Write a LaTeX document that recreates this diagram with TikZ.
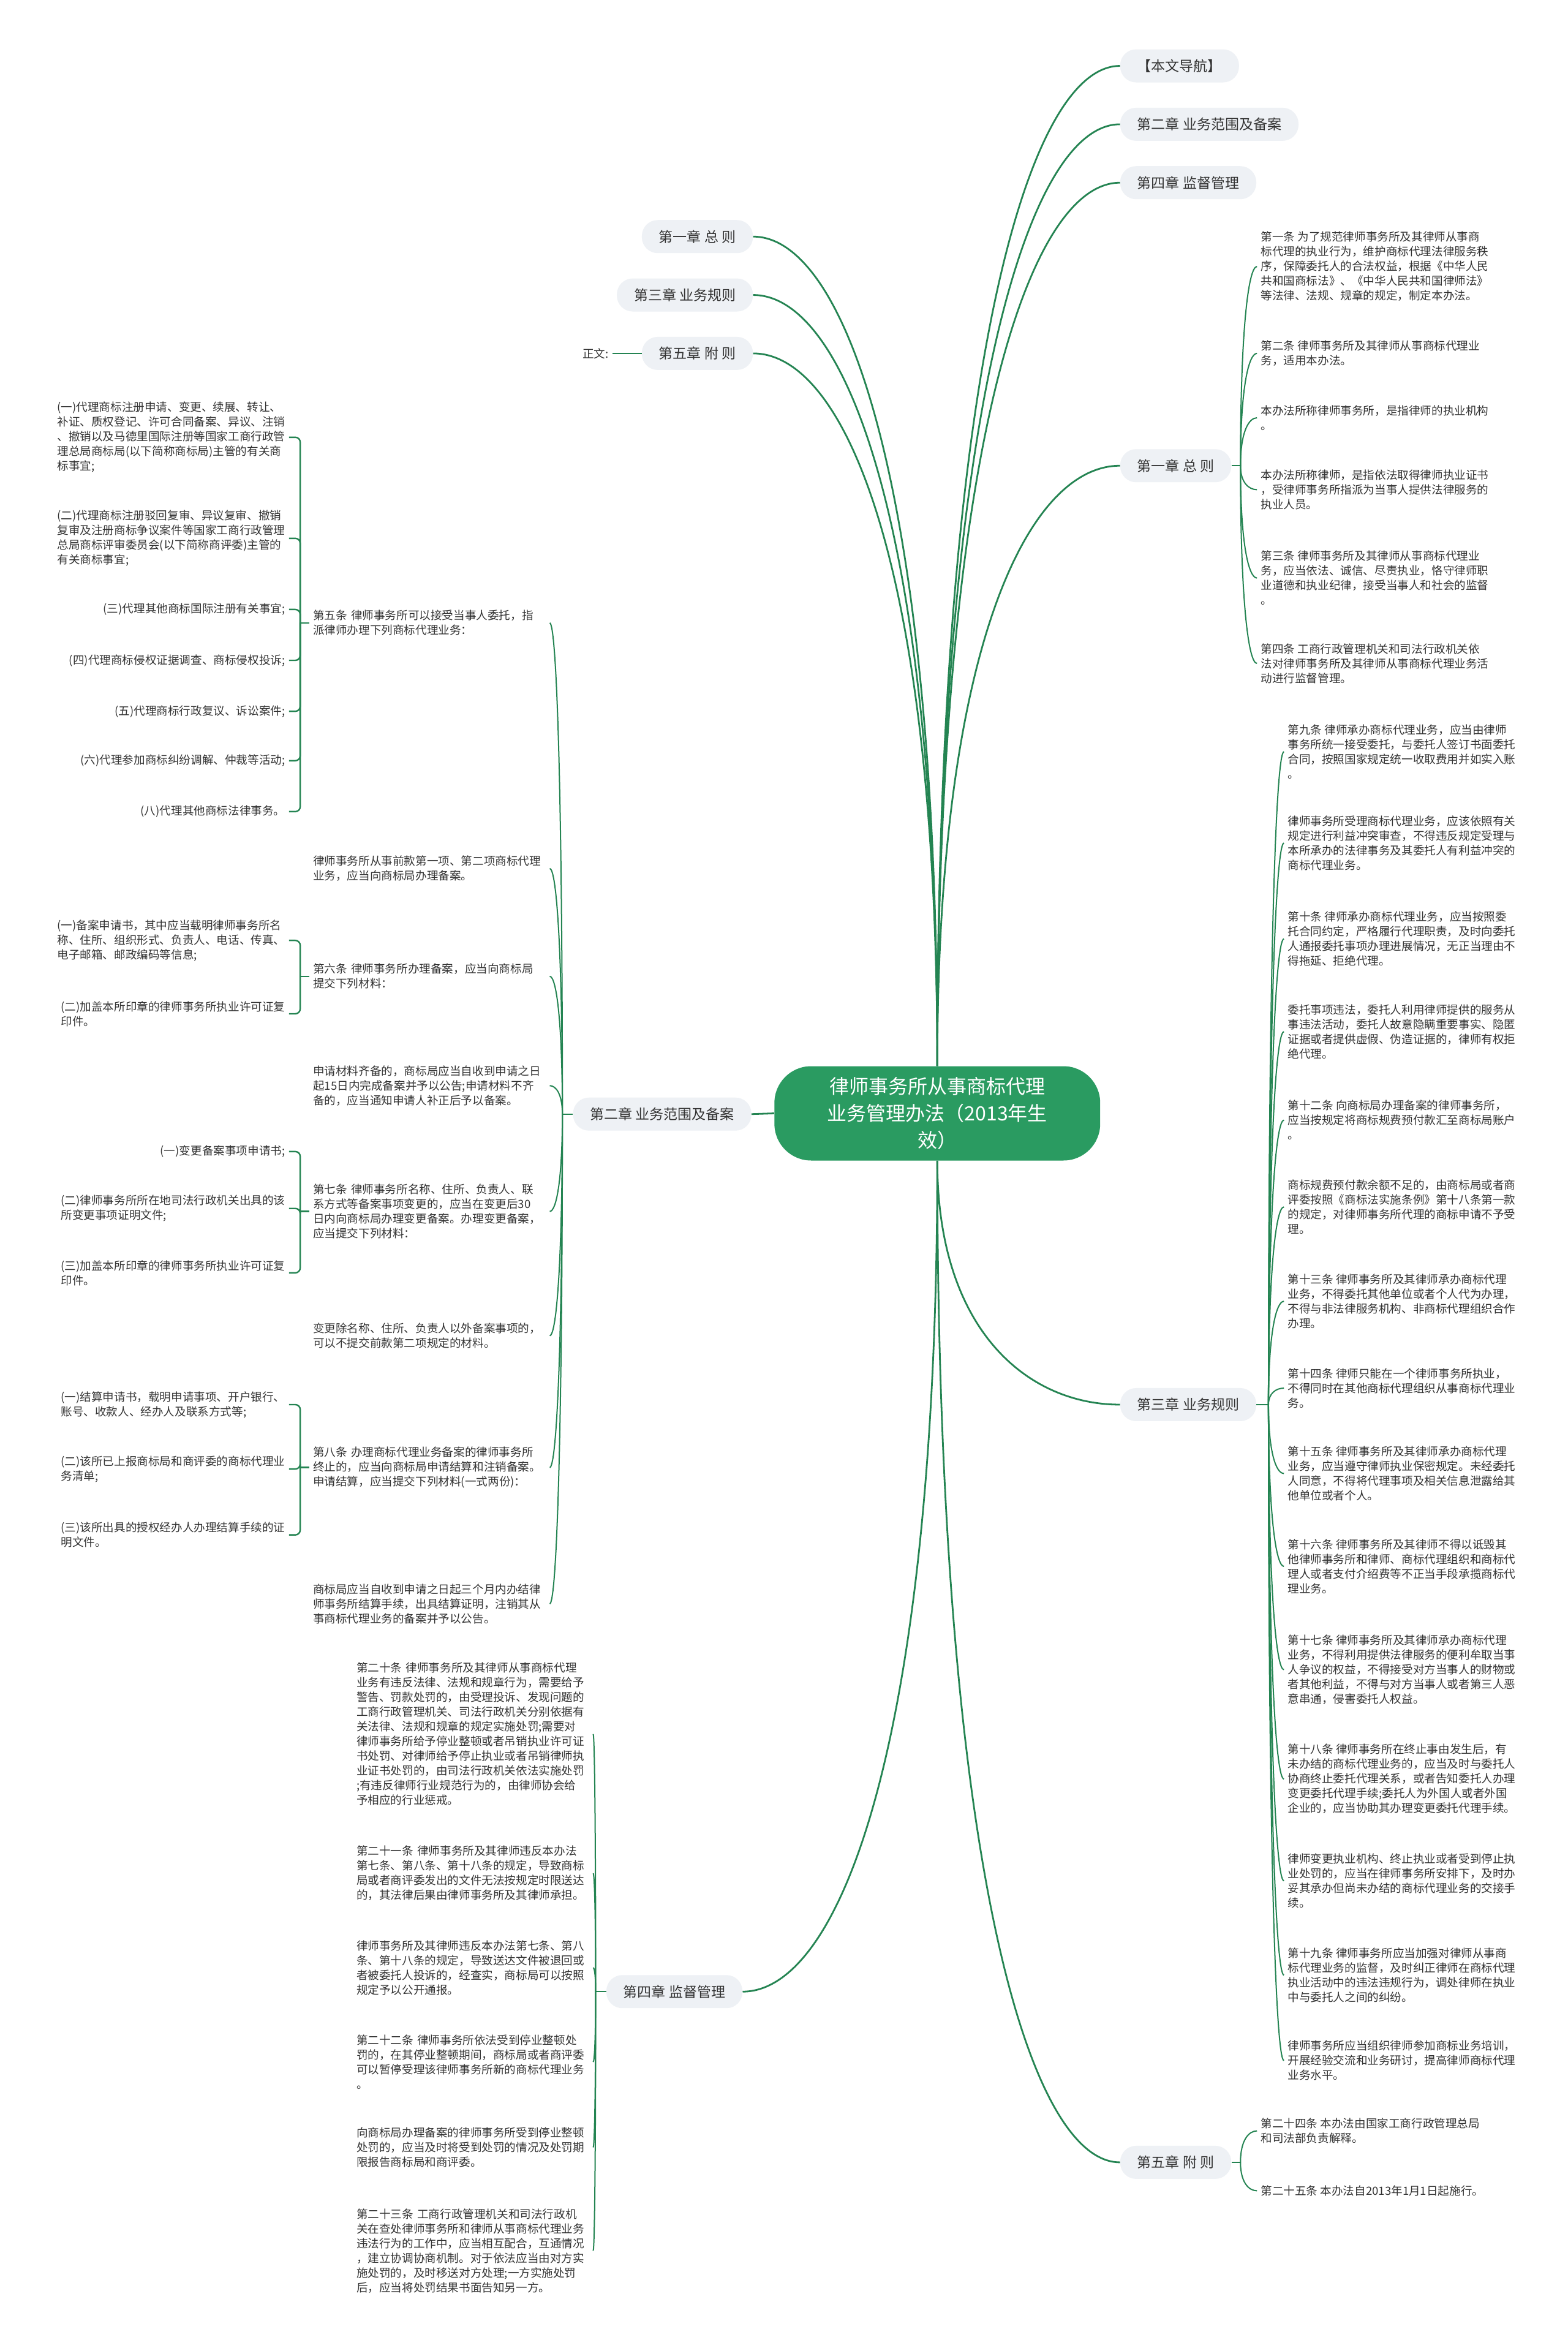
\documentclass[tikz,border=0pt]{standalone}
\usepackage{fontspec}
\newfontfamily\cjk{Noto Sans CJK SC}
\usetikzlibrary{calc}
\definecolor{mmgreen}{RGB}{36,132,82}
\definecolor{rootgreen}{RGB}{42,155,97}
\definecolor{pillgray}{RGB}{238,241,245}
\definecolor{txtgray}{RGB}{51,51,51}

\begin{document}
\begin{tikzpicture}[
  x=1.2225pt, y=-1.2225pt,
  root box/.style = {fill=rootgreen, rounded corners=30pt, minimum width=266pt,
    minimum height=77pt, align=center, text=white, inner sep=0pt,
    font=\cjk\fontsize{16}{22}\selectfont},
  chap/.style = {fill=pillgray, rounded corners=13pt, minimum height=27pt,
    inner xsep=14pt, inner ysep=0pt, text=txtgray,
    font=\cjk\fontsize{11.5}{14}\selectfont},
  leaf/.style = {align=left, inner xsep=3pt, inner ysep=1pt, text=txtgray,
    font=\cjk\fontsize{9.3}{12}\selectfont},
  leaf r/.style = {leaf, anchor=west},
  leaf l/.style = {leaf, anchor=west, text width=190pt},
  item/.style = {leaf, anchor=east},
  link/.style = {draw=mmgreen, line width=1.4pt},
  fan/.style = {draw=mmgreen, line width=1pt},
  brk/.style = {draw=mmgreen, line width=1.2pt, rounded corners=4pt},
  curv/.style = {to path={.. controls ($(\tikztostart)!0.7!(\tikztostart|-\tikztotarget)$)
    and ($(\tikztotarget)!0.5!(\tikztostart|-\tikztotarget)$) .. (\tikztotarget)}},
]
\fill[white] (0,0) rectangle (1047,1568);
\useasboundingbox (0,0) rectangle (1047,1568);

% root
\node[root box] (root) at (626,743.5)
  {律师事务所从事商标代理\\业务管理办法（2013年生\\效）};

% chapters, right
\node[chap, anchor=west] (nav)   at (748,44)   {【本文导航】};
\node[chap, anchor=west] (ch2-r) at (748,83)   {第二章 业务范围及备案};
\node[chap, anchor=west] (ch4-r) at (748,122)  {第四章 监督管理};
\node[chap, anchor=west] (ch1-r) at (748,311)  {第一章 总 则};
\node[chap, anchor=west] (ch3-r) at (748,938)  {第三章 业务规则};
\node[chap, anchor=west] (ch5-r) at (748,1444) {第五章 附 则};

% chapters, left
\node[chap, anchor=east] (ch1-l) at (503,158)  {第一章 总 则};
\node[chap, anchor=east] (ch3-l) at (503,197)  {第三章 业务规则};
\node[chap, anchor=east] (ch5-l) at (503,236)  {第五章 附 则};
\node[chap, anchor=east] (ch2-l) at (502,744)  {第二章 业务范围及备案};
\node[chap, anchor=east] (ch4-l) at (496,1330) {第四章 监督管理};
\node[leaf, anchor=east] (zw)    at (409,236)  {正文:};

\coordinate (rt) at (root.north);
\coordinate (rb) at (root.south);

\foreach \nd in {nav,ch2-r,ch4-r,ch1-r} \draw[link] (rt) to[curv] (\nd.west);
\foreach \nd in {ch3-r,ch5-r} \draw[link] (rb) to[curv] (\nd.west);
\foreach \nd in {ch1-l,ch3-l,ch5-l} \draw[link] (rt) to[curv] (\nd.east);
\draw[link] (rb) to[curv] (ch4-l.east);
\draw[link] (root.west) -- (ch2-l.east);
\draw[fan] (zw.east) -- (ch5-l.west);

% 第一章 (right)
\node[leaf r] (r1a) at (839.5,178) {第一条 为了规范律师事务所及其律师从事商\\标代理的执业行为，维护商标代理法律服务秩\\序，保障委托人的合法权益，根据《中华人民\\共和国商标法》、《中华人民共和国律师法》\\等法律、法规、规章的规定，制定本办法。};
\node[leaf r] (r1b) at (839.5,236) {第二条 律师事务所及其律师从事商标代理业\\务，适用本办法。};
\node[leaf r] (r1c) at (839.5,279) {本办法所称律师事务所，是指律师的执业机构\\。};
\node[leaf r] (r1d) at (839.5,327) {本办法所称律师，是指依法取得律师执业证书\\，受律师事务所指派为当事人提供法律服务的\\执业人员。};
\node[leaf r] (r1e) at (839.5,386) {第三条 律师事务所及其律师从事商标代理业\\务，应当依法、诚信、尽责执业，恪守律师职\\业道德和执业纪律，接受当事人和社会的监督\\。};
\node[leaf r] (r1f) at (839.5,443) {第四条 工商行政管理机关和司法行政机关依\\法对律师事务所及其律师从事商标代理业务活\\动进行监督管理。};
\draw[fan] (ch1-r.east) -- ++(6,0) coordinate (s1r);
\foreach \nd in {r1a,r1b,r1c,r1d,r1e,r1f} \draw[fan] (s1r) to[curv] (\nd.west);

% 第三章 (right)
\node[leaf r] (r3a) at (857.5,502) {第九条 律师承办商标代理业务，应当由律师\\事务所统一接受委托，与委托人签订书面委托\\合同，按照国家规定统一收取费用并如实入账\\。};
\node[leaf r] (r3b) at (857.5,563) {律师事务所受理商标代理业务，应该依照有关\\规定进行利益冲突审查，不得违反规定受理与\\本所承办的法律事务及其委托人有利益冲突的\\商标代理业务。};
\node[leaf r] (r3c) at (857.5,627) {第十条 律师承办商标代理业务，应当按照委\\托合同约定，严格履行代理职责，及时向委托\\人通报委托事项办理进展情况，无正当理由不\\得拖延、拒绝代理。};
\node[leaf r] (r3d) at (857.5,689) {委托事项违法，委托人利用律师提供的服务从\\事违法活动，委托人故意隐瞒重要事实、隐匿\\证据或者提供虚假、伪造证据的，律师有权拒\\绝代理。};
\node[leaf r] (r3e) at (857.5,748) {第十二条 向商标局办理备案的律师事务所，\\应当按规定将商标规费预付款汇至商标局账户\\。};
\node[leaf r] (r3f) at (857.5,806) {商标规费预付款余额不足的，由商标局或者商\\评委按照《商标法实施条例》第十八条第一款\\的规定，对律师事务所代理的商标申请不予受\\理。};
\node[leaf r] (r3g) at (857.5,869) {第十三条 律师事务所及其律师承办商标代理\\业务，不得委托其他单位或者个人代为办理，\\不得与非法律服务机构、非商标代理组织合作\\办理。};
\node[leaf r] (r3h) at (857.5,927) {第十四条 律师只能在一个律师事务所执业，\\不得同时在其他商标代理组织从事商标代理业\\务。};
\node[leaf r] (r3i) at (857.5,984) {第十五条 律师事务所及其律师承办商标代理\\业务，应当遵守律师执业保密规定。未经委托\\人同意，不得将代理事项及相关信息泄露给其\\他单位或者个人。};
\node[leaf r] (r3j) at (857.5,1046) {第十六条 律师事务所及其律师不得以诋毁其\\他律师事务所和律师、商标代理组织和商标代\\理人或者支付介绍费等不正当手段承揽商标代\\理业务。};
\node[leaf r] (r3k) at (857.5,1115) {第十七条 律师事务所及其律师承办商标代理\\业务，不得利用提供法律服务的便利牟取当事\\人争议的权益，不得接受对方当事人的财物或\\者其他利益，不得与对方当事人或者第三人恶\\意串通，侵害委托人权益。};
\node[leaf r] (r3l) at (857.5,1188) {第十八条 律师事务所在终止事由发生后，有\\未办结的商标代理业务的，应当及时与委托人\\协商终止委托代理关系，或者告知委托人办理\\变更委托代理手续;委托人为外国人或者外国\\企业的，应当协助其办理变更委托代理手续。};
\node[leaf r] (r3m) at (857.5,1256) {律师变更执业机构、终止执业或者受到停止执\\业处罚的，应当在律师事务所安排下，及时办\\妥其承办但尚未办结的商标代理业务的交接手\\续。};
\node[leaf r] (r3n) at (857.5,1319) {第十九条 律师事务所应当加强对律师从事商\\标代理业务的监督，及时纠正律师在商标代理\\执业活动中的违法违规行为，调处律师在执业\\中与委托人之间的纠纷。};
\node[leaf r] (r3o) at (857.5,1376) {律师事务所应当组织律师参加商标业务培训，\\开展经验交流和业务研讨，提高律师商标代理\\业务水平。};
\draw[fan] (ch3-r.east) -- ++(8,0) coordinate (s3r);
\foreach \nd in {r3a,r3b,r3c,r3d,r3e,r3f,r3g,r3h,r3i,r3j,r3k,r3l,r3m,r3n,r3o}
  \draw[fan] (s3r) to[curv] (\nd.west);

% 第五章 (right)
\node[leaf r] (r5a) at (839.5,1423) {第二十四条 本办法由国家工商行政管理总局\\和司法部负责解释。};
\node[leaf r] (r5b) at (839.5,1463) {第二十五条 本办法自2013年1月1日起施行。};
\draw[fan] (ch5-r.east) -- ++(6,0) coordinate (s5r);
\foreach \nd in {r5a,r5b} \draw[fan] (s5r) to[curv] (\nd.west);

% 第二章 (left)
\node[leaf l] (l2a) at (206.5,416) {第五条 律师事务所可以接受当事人委托，指\\派律师办理下列商标代理业务：};
\node[leaf l] (l2b) at (206.5,580) {律师事务所从事前款第一项、第二项商标代理\\业务，应当向商标局办理备案。};
\node[leaf l] (l2c) at (206.5,652) {第六条 律师事务所办理备案，应当向商标局\\提交下列材料：};
\node[leaf l] (l2d) at (206.5,725) {申请材料齐备的，商标局应当自收到申请之日\\起15日内完成备案并予以公告;申请材料不齐\\备的，应当通知申请人补正后予以备案。};
\node[leaf l] (l2e) at (206.5,809) {第七条 律师事务所名称、住所、负责人、联\\系方式等备案事项变更的，应当在变更后30\\日内向商标局办理变更备案。办理变更备案，\\应当提交下列材料：};
\node[leaf l] (l2f) at (206.5,892) {变更除名称、住所、负责人以外备案事项的，\\可以不提交前款第二项规定的材料。};
\node[leaf l] (l2g) at (206.5,980) {第八条 办理商标代理业务备案的律师事务所\\终止的，应当向商标局申请结算和注销备案。\\申请结算，应当提交下列材料(一式两份)：};
\node[leaf l] (l2h) at (206.5,1071) {商标局应当自收到申请之日起三个月内办结律\\师事务所结算手续，出具结算证明，注销其从\\事商标代理业务的备案并予以公告。};
\draw[fan] (ch2-l.west) -- ++(-7,0) coordinate (s2l);
\foreach \nd in {l2a,l2b,l2c,l2d,l2e,l2f,l2g,l2h} \draw[fan] (s2l) to[curv] (\nd.east);

% 第五条 items
\node[item] (l5a) at (193,292) {(一)代理商标注册申请、变更、续展、转让、\\补证、质权登记、许可合同备案、异议、注销\\、撤销以及马德里国际注册等国家工商行政管\\理总局商标局(以下简称商标局)主管的有关商\\标事宜;};
\node[item] (l5b) at (193,359.5) {(二)代理商标注册驳回复审、异议复审、撤销\\复审及注册商标争议案件等国家工商行政管理\\总局商标评审委员会(以下简称商评委)主管的\\有关商标事宜;};
\node[item] (l5c) at (193,407) {(三)代理其他商标国际注册有关事宜;};
\node[item] (l5d) at (193,441) {(四)代理商标侵权证据调查、商标侵权投诉;};
\node[item] (l5e) at (193,475) {(五)代理商标行政复议、诉讼案件;};
\node[item] (l5f) at (193,508) {(六)代理参加商标纠纷调解、仲裁等活动;};
\node[item] (l5g) at (193,542) {(八)代理其他商标法律事务。};
\draw[brk] (l2a.west) -- ++(-6,0) coordinate (b5);
\foreach \nd in {l5a,l5b,l5c,l5d,l5e,l5f,l5g} \draw[brk] (b5) |- (\nd.east);

% 第六条 items
\node[item] (l6a) at (193,628) {(一)备案申请书，其中应当载明律师事务所名\\称、住所、组织形式、负责人、电话、传真、\\电子邮箱、邮政编码等信息;};
\node[item] (l6b) at (193,677) {(二)加盖本所印章的律师事务所执业许可证复\\印件。};
\draw[brk] (l2c.west) -- ++(-6,0) coordinate (b6);
\foreach \nd in {l6a,l6b} \draw[brk] (b6) |- (\nd.east);

% 第七条 items
\node[item] (l7a) at (193,769) {(一)变更备案事项申请书;};
\node[item] (l7b) at (193,807) {(二)律师事务所所在地司法行政机关出具的该\\所变更事项证明文件;};
\node[item] (l7c) at (193,850) {(三)加盖本所印章的律师事务所执业许可证复\\印件。};
\draw[brk] (l2e.west) -- ++(-6,0) coordinate (b7);
\foreach \nd in {l7a,l7b,l7c} \draw[brk] (b7) |- (\nd.east);

% 第八条 items
\node[item] (l8a) at (193,938) {(一)结算申请书，载明申请事项、开户银行、\\账号、收款人、经办人及联系方式等;};
\node[item] (l8b) at (193,981) {(二)该所已上报商标局和商评委的商标代理业\\务清单;};
\node[item] (l8c) at (193,1025) {(三)该所出具的授权经办人办理结算手续的证\\明文件。};
\draw[brk] (l2g.west) -- ++(-6,0) coordinate (b8);
\foreach \nd in {l8a,l8b,l8c} \draw[brk] (b8) |- (\nd.east);

% 第四章 (left)
\node[leaf l] (l4a) at (235.5,1158) {第二十条 律师事务所及其律师从事商标代理\\业务有违反法律、法规和规章行为，需要给予\\警告、罚款处罚的，由受理投诉、发现问题的\\工商行政管理机关、司法行政机关分别依据有\\关法律、法规和规章的规定实施处罚;需要对\\律师事务所给予停业整顿或者吊销执业许可证\\书处罚、对律师给予停止执业或者吊销律师执\\业证书处罚的，由司法行政机关依法实施处罚\\;有违反律师行业规范行为的，由律师协会给\\予相应的行业惩戒。};
\node[leaf l] (l4b) at (235.5,1251) {第二十一条 律师事务所及其律师违反本办法\\第七条、第八条、第十八条的规定，导致商标\\局或者商评委发出的文件无法按规定时限送达\\的，其法律后果由律师事务所及其律师承担。};
\node[leaf l] (l4c) at (235.5,1314) {律师事务所及其律师违反本办法第七条、第八\\条、第十八条的规定，导致送达文件被退回或\\者被委托人投诉的，经查实，商标局可以按照\\规定予以公开通报。};
\node[leaf l] (l4d) at (235.5,1377) {第二十二条 律师事务所依法受到停业整顿处\\罚的，在其停业整顿期间，商标局或者商评委\\可以暂停受理该律师事务所新的商标代理业务\\。};
\node[leaf l] (l4e) at (235.5,1434) {向商标局办理备案的律师事务所受到停业整顿\\处罚的，应当及时将受到处罚的情况及处罚期\\限报告商标局和商评委。};
\node[leaf l] (l4f) at (235.5,1503) {第二十三条 工商行政管理机关和司法行政机\\关在查处律师事务所和律师从事商标代理业务\\违法行为的工作中，应当相互配合，互通情况\\，建立协调协商机制。对于依法应当由对方实\\施处罚的，及时移送对方处理;一方实施处罚\\后，应当将处罚结果书面告知另一方。};
\draw[fan] (ch4-l.west) -- ++(-7,0) coordinate (s4l);
\foreach \nd in {l4a,l4b,l4c,l4d,l4e,l4f} \draw[fan] (s4l) to[curv] (\nd.east);

\end{tikzpicture}
\end{document}
